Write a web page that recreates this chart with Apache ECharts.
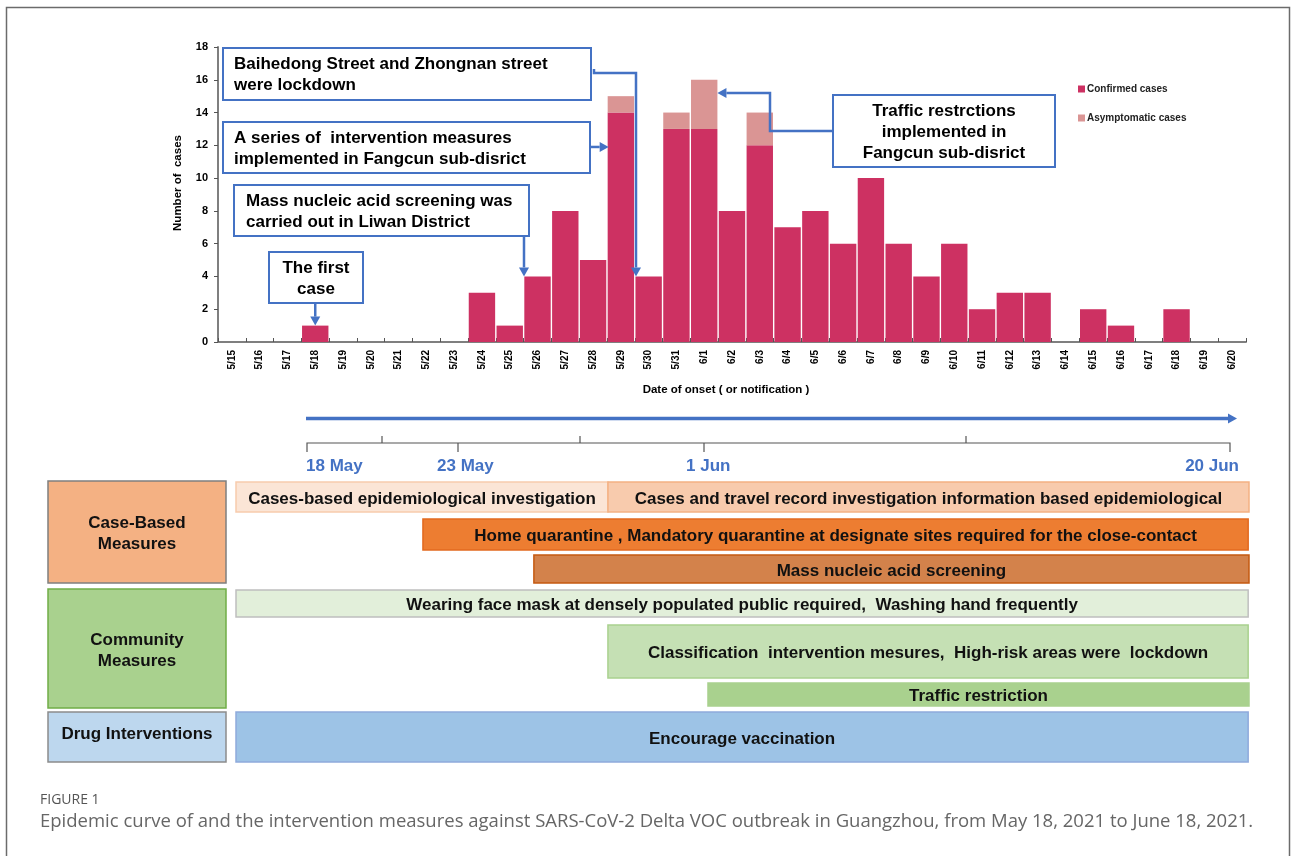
<!DOCTYPE html>
<html><head><meta charset="utf-8">
<script src="https://cdn.jsdelivr.net/npm/echarts@6/dist/echarts.min.js"></script>
<style>html,body{margin:0;padding:0;background:#fff}#c{width:1292px;height:856px}</style>
</head><body><div id="c"></div>
<script>
// ---------- DATA ----------
const DATES = ['5/15','5/16','5/17','5/18','5/19','5/20','5/21','5/22','5/23','5/24','5/25','5/26','5/27','5/28','5/29','5/30','5/31',
  '6/1','6/2','6/3','6/4','6/5','6/6','6/7','6/8','6/9','6/10','6/11','6/12','6/13','6/14','6/15','6/16','6/17','6/18','6/19','6/20'];
const CONFIRMED = [0,0,0,1,0,0,0,0,0,3,1,4,8,5,14,4,13,13,8,12,7,8,6,10,6,4,6,2,3,3,0,2,1,0,2,0,0];
const ASYMPTOMATIC = [0,0,0,0,0,0,0,0,0,0,0,0,0,0,1,0,1,3,0,2,0,0,0,0,0,0,0,0,0,0,0,0,0,0,0,0,0];
const Y_TICKS = [0,2,4,6,8,10,12,14,16,18];
const SERIES_NAMES = ['Confirmed cases','Asymptomatic cases'];
const Y_TITLE = 'Number of  cases';
const X_TITLE = 'Date of onset ( or notification )';

const ANNOTATIONS = [
  'The first\ncase',
  'Mass nucleic acid screening was\ncarried out in Liwan District',
  'A series of  intervention measures\nimplemented in Fangcun sub-disrict',
  'Baihedong Street and Zhongnan street\nwere lockdown',
  'Traffic restrctions\nimplemented in\nFangcun sub-disrict'
];
const ANNOT_DATES = ['5/18','5/26','5/29','5/30','6/1'];

const TIMELINE_LABELS = ['18 May','23 May','1 Jun','20 Jun'];
const GROUP_NAMES = ['Case-Based\nMeasures','Community\nMeasures','Drug Interventions'];
const MEASURE_NAMES = [
  'Cases-based epidemiological investigation',
  'Cases and travel record investigation information based epidemiological',
  'Home quarantine , Mandatory quarantine at designate sites required for the close-contact',
  'Mass nucleic acid screening',
  'Wearing face mask at densely populated public required,  Washing hand frequently',
  'Classification  intervention mesures,  High-risk areas were  lockdown',
  'Traffic restriction',
  'Encourage vaccination'
];
// start / end in days after 18 May
const MEASURE_START = [-2.54, 10.77, 4.15, 8.12, -2.54, 10.77, 14.35, -2.54];
const MEASURE_END   = [10.77, 33.71, 33.68, 33.71, 33.68, 33.68, 33.71, 33.68];
const MEASURE_ROW   = [0, 0, 1, 2, 3, 4, 5, 6];
const CAPTION_LABEL = 'FIGURE 1';
const CAPTION = 'Epidemic curve of and the intervention measures against SARS-CoV-2 Delta VOC outbreak in Guangzhou, from May 18, 2021 to June 18, 2021.';

// ---------- STYLE / LAYOUT ----------
const C_CONF = '#CD3162', C_ASYM = '#DA9594', BLUE = '#4472C4';
const FONT = '"Liberation Sans", Arial, sans-serif';
const ROW_LAYOUT = [{t:482,h:30},{t:519,h:31},{t:555,h:28},{t:590,h:27},{t:625,h:53},{t:683,h:23},{t:712,h:50}];
const MEASURE_STYLE = [
  {fill:'#FBE5D6', stroke:'#F8CBAD'},
  {fill:'#F8CBAD', stroke:'#F4B183'},
  {fill:'#ED7D31', stroke:'#E2691F'},
  {fill:'#D3824B', stroke:'#C55A11'},
  {fill:'#E2EFDA', stroke:'#BFBFBF'},
  {fill:'#C5E0B4', stroke:'#A9D18E'},
  {fill:'#A9D18E', stroke:'#A9D18E'},
  {fill:'#9DC3E6', stroke:'#8FAADC'}
];
const GROUP_BOXES = [
  {x:48,y:481,w:178,h:102,fill:'#F4B183',stroke:'#7F7F7F'},
  {x:48,y:589,w:178,h:119,fill:'#A9D18E',stroke:'#70AD47'},
  {x:48,y:712,w:178,h:50,fill:'#BDD7EE',stroke:'#8C8C8C'}
];

const chart = echarts.init(document.getElementById('c'), null, {renderer:'canvas'});

const option = {
  backgroundColor:'#fff',
  animation:false,
  legend:{
    orient:'vertical', left:1073, top:79, itemGap:19, itemWidth:7, itemHeight:7,
    icon:'rect', data:SERIES_NAMES,
    textStyle:{fontFamily:FONT, fontSize:10, fontWeight:'bold', color:'#222', padding:[0,0,0,-3]}
  },
  grid:[
    {left:218, right:46, top:47, bottom:514, containLabel:false},
    {left:236, right:43, top:481, height:282, containLabel:false}
  ],
  xAxis:[
    {type:'category', gridIndex:0, data:DATES, boundaryGap:true,
     axisLine:{lineStyle:{color:'#7F7F7F', width:2}},
     axisTick:{show:true, inside:true, length:4, alignWithLabel:false, lineStyle:{color:'#555'}},
     axisLabel:{rotate:90, interval:0, fontFamily:FONT, fontSize:10, fontWeight:'bold', color:'#000', margin:8},
     name:X_TITLE, nameLocation:'middle', nameGap:42,
     nameTextStyle:{fontFamily:FONT, fontSize:11.5, fontWeight:'bold', color:'#000', padding:[0,12,0,0]}},
    {type:'value', gridIndex:1, min:-2.54, max:33.71, show:false}
  ],
  yAxis:[
    {type:'value', gridIndex:0, min:Y_TICKS[0], max:Y_TICKS[Y_TICKS.length-1], interval:2,
     axisLine:{show:true, lineStyle:{color:'#7F7F7F', width:2}},
     axisTick:{show:true, length:4, lineStyle:{color:'#555'}},
     splitLine:{show:false},
     axisLabel:{fontFamily:FONT, fontSize:11, fontWeight:'bold', color:'#000', margin:10}},
    {type:'value', gridIndex:1, min:0, max:1, show:false}
  ],
  series:[
    {name:SERIES_NAMES[0], type:'bar', stack:'s', data:CONFIRMED, barCategoryGap:'5%',
     itemStyle:{color:C_CONF}, xAxisIndex:0, yAxisIndex:0},
    {name:SERIES_NAMES[1], type:'bar', stack:'s', data:ASYMPTOMATIC, barCategoryGap:'5%',
     itemStyle:{color:C_ASYM}, xAxisIndex:0, yAxisIndex:0},
    {type:'custom', xAxisIndex:1, yAxisIndex:1,
     data: MEASURE_NAMES.map((n,i)=>[MEASURE_START[i], MEASURE_END[i], MEASURE_ROW[i], i]),
     renderItem:function(params, api){
       const i = api.value(3);
       const s = api.coord([api.value(0), 0]), e = api.coord([api.value(1), 0]);
       const row = ROW_LAYOUT[api.value(2)];
       const st = MEASURE_STYLE[i];
       return {type:'group', children:[
         {type:'rect', shape:{x:s[0], y:row.t, width:e[0]-s[0], height:row.h},
          style:{fill:st.fill, stroke:st.stroke, lineWidth:1.5}},
         {type:'text', x:(s[0]+e[0])/2, y:row.t+row.h/2+2,
          style:{text:MEASURE_NAMES[i], align:'center', verticalAlign:'middle',
                 font:'bold 17px '+FONT, fill:'#111'}}
       ]};
     }}
  ]
};
chart.setOption(option);

// ---------- annotations & diagram decorations ----------
function px(cat, v){ return chart.convertToPixel({xAxisIndex:0, yAxisIndex:0}, [cat, v]); }
const catW = px(DATES[1],0)[0] - px(DATES[0],0)[0];
const barHalf = catW*0.95/2;
function total(d){ const i = DATES.indexOf(d); return CONFIRMED[i]+ASYMPTOMATIC[i]; }

function arrow(points){
  const n = points.length;
  const [x1,y1] = points[n-2], [x2,y2] = points[n-1];
  const a = Math.atan2(y2-y1, x2-x1), L = 9, W = 5;
  const bx = x2 - L*Math.cos(a), by = y2 - L*Math.sin(a);
  const pts = points.slice(0, n-1).concat([[bx,by]]);
  return [
    {type:'polyline', shape:{points:pts}, style:{stroke:BLUE, lineWidth:2.5, fill:null}, z:10},
    {type:'polygon', shape:{points:[[x2,y2],[bx+W*Math.sin(a), by-W*Math.cos(a)],[bx-W*Math.sin(a), by+W*Math.cos(a)]]},
     style:{fill:BLUE}, z:10}
  ];
}
function box(x,y,w,h,text,align,tx){
  return [
    {type:'rect', shape:{x:x,y:y,width:w,height:h}, style:{fill:'#fff', stroke:BLUE, lineWidth:2}, z:11},
    {type:'text', x:tx, y:y+h/2+1, z:12,
     style:{text:text, align:align, verticalAlign:'middle', font:'bold 17px '+FONT, lineHeight:21, fill:'#000'}}
  ];
}
const g = [];
// outer frame
g.push({type:'rect', shape:{x:6.5,y:7.5,width:1283,height:860}, style:{fill:null, stroke:'#6b6b6b', lineWidth:1.5}, z:0});
// y-axis title
g.push({type:'text', x:178, y:183, rotation:Math.PI/2,
  style:{text:Y_TITLE, align:'center', verticalAlign:'middle', font:'bold 11.5px '+FONT, fill:'#000'}});

// 1 first case
let p = px(ANNOT_DATES[0], total(ANNOT_DATES[0]));
g.push(...box(269,252,94,51,ANNOTATIONS[0],'center',316));
g.push(...arrow([[p[0],303],[p[0],p[1]]]));
// 2 mass screening
p = px(ANNOT_DATES[1], total(ANNOT_DATES[1]));
g.push(...box(234,185,295,51,ANNOTATIONS[1],'left',246));
g.push(...arrow([[524,236],[524,p[1]]]));
// 3 series of measures
p = px(ANNOT_DATES[2], 11.9);
g.push(...box(223,122,367,51,ANNOTATIONS[2],'left',234));
g.push(...arrow([[590,p[1]],[p[0]-barHalf+1,p[1]]]));
// 4 Baihedong
p = px(ANNOT_DATES[3], total(ANNOT_DATES[3]));
g.push(...box(223,48,368,52,ANNOTATIONS[3],'left',234));
g.push(...arrow([[594,69],[594,73],[636,73],[636,p[1]]]));
// 5 traffic
p = px(ANNOT_DATES[4], 15.2);
g.push(...box(833,95,222,72,ANNOTATIONS[4],'center',944));
g.push(...arrow([[833,131],[770,131],[770,p[1]],[p[0]+barHalf,p[1]]]));

// timeline arrow
g.push(...arrow([[306,418.5],[1237,418.5]]).map(o=>{ if(o.type==='polyline'){o.style.lineWidth=3.5;} return o; }));
// bracket
g.push({type:'polyline', shape:{points:[[307,452],[307,443],[1230,443],[1230,452]]}, style:{stroke:'#555', lineWidth:1.2, fill:null}});
[382,580,966].forEach(x=>g.push({type:'line', shape:{x1:x,y1:443,x2:x,y2:436}, style:{stroke:'#555', lineWidth:1.2}}));
[458,704].forEach(x=>g.push({type:'line', shape:{x1:x,y1:443,x2:x,y2:452}, style:{stroke:'#555', lineWidth:1.2}}));
const TL_POS = [{x:306,a:'left'},{x:437,a:'left'},{x:686,a:'left'},{x:1239,a:'right'}];
TIMELINE_LABELS.forEach((t,i)=>g.push({type:'text', x:TL_POS[i].x, y:466,
  style:{text:t, align:TL_POS[i].a, verticalAlign:'middle', font:'bold 17px '+FONT, fill:BLUE}}));

// group boxes
GROUP_BOXES.forEach((b,i)=>{
  g.push({type:'rect', shape:{x:b.x,y:b.y,width:b.w,height:b.h}, style:{fill:b.fill, stroke:b.stroke, lineWidth:1.5}});
  g.push({type:'text', x:b.x+b.w/2, y:b.y+b.h/2 + (i===2?-3:2),
    style:{text:GROUP_NAMES[i], align:'center', verticalAlign:'middle', font:'bold 17px '+FONT, lineHeight:21, fill:'#111'}});
});

// caption
g.push({type:'text', x:40, y:800, style:{text:CAPTION_LABEL, align:'left', verticalAlign:'middle', font:'14px "Open Sans", sans-serif', fill:'#555'}});
g.push({type:'text', x:40, y:822, style:{text:CAPTION, align:'left', verticalAlign:'middle', font:'18.5px "Open Sans", sans-serif', fill:'#666'}});

chart.setOption({graphic:{elements:g}});
</script></body></html>
